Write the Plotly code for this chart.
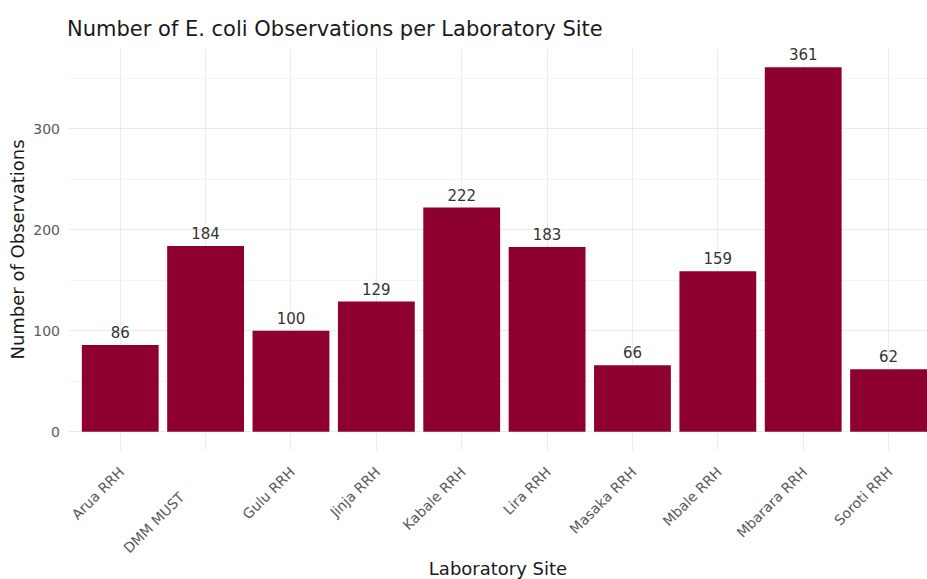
import plotly.graph_objects as go

sites = ["Arua RRH", "DMM MUST", "Gulu RRH", "Jinja RRH", "Kabale RRH",
         "Lira RRH", "Masaka RRH", "Mbale RRH", "Mbarara RRH", "Soroti RRH"]
observations = [86, 184, 100, 129, 222, 183, 66, 159, 361, 62]
# site names as printed under the axis (the DMM MUST label carries trailing padding)
site_labels = ["Arua RRH", "DMM MUST" + "\u00a0" * 8, "Gulu RRH", "Jinja RRH",
               "Kabale RRH", "Lira RRH", "Masaka RRH", "Mbale RRH",
               "Mbarara RRH", "Soroti RRH"]
y_ticks = [0, 100, 200, 300]

bar_color = "#8E0030"
font_family = "DejaVu Sans, Verdana, sans-serif"

fig = go.Figure()
fig.add_trace(go.Bar(
    x=sites,
    y=observations,
    width=0.9,
    marker=dict(color=bar_color, line=dict(width=0)),
    text=[str(v) for v in observations],
    textposition="outside",
    cliponaxis=False,
    textfont=dict(family=font_family, size=15, color="#333333"),
    hoverinfo="x+y",
))

fig.update_layout(
    width=927,
    height=579,
    margin=dict(l=69, r=0, t=49, b=129),
    paper_bgcolor="white",
    plot_bgcolor="white",
    font=dict(family=font_family),
    showlegend=False,
    title=dict(
        text="Number of E. coli Observations per Laboratory Site",
        x=67 / 927, xanchor="left",
        y=1 - 29 / 579, yanchor="middle",
        font=dict(family=font_family, size=21, color="#1a1a1a"),
    ),
    xaxis=dict(
        range=[-0.6, 9.45],
        tickmode="array",
        tickvals=sites,
        ticktext=site_labels,
        tickangle=-45,
        ticklabelstandoff=10,
        tickfont=dict(family=font_family, size=14, color="#595959"),
        showgrid=True,
        gridcolor="#ebebeb",
        gridwidth=1,
        zeroline=False,
        showline=False,
        ticks="",
        automargin=False,
        title=dict(text="Laboratory Site", standoff=12,
                   font=dict(family=font_family, size=18, color="#1a1a1a")),
    ),
    yaxis=dict(
        range=[-18, 379],
        tickvals=y_ticks,
        ticklabelstandoff=8,
        tickfont=dict(family=font_family, size=14, color="#595959"),
        showgrid=True,
        gridcolor="#ebebeb",
        gridwidth=1,
        minor=dict(tickvals=[50, 150, 250, 350], showgrid=True,
                   gridcolor="#f4f4f4", gridwidth=0.6),
        zeroline=False,
        showline=False,
        ticks="",
        automargin=False,
        title=dict(text="Number of Observations", standoff=3,
                   font=dict(family=font_family, size=18, color="#1a1a1a")),
    ),
    bargap=0.1,
)

fig.write_html("out.html")
